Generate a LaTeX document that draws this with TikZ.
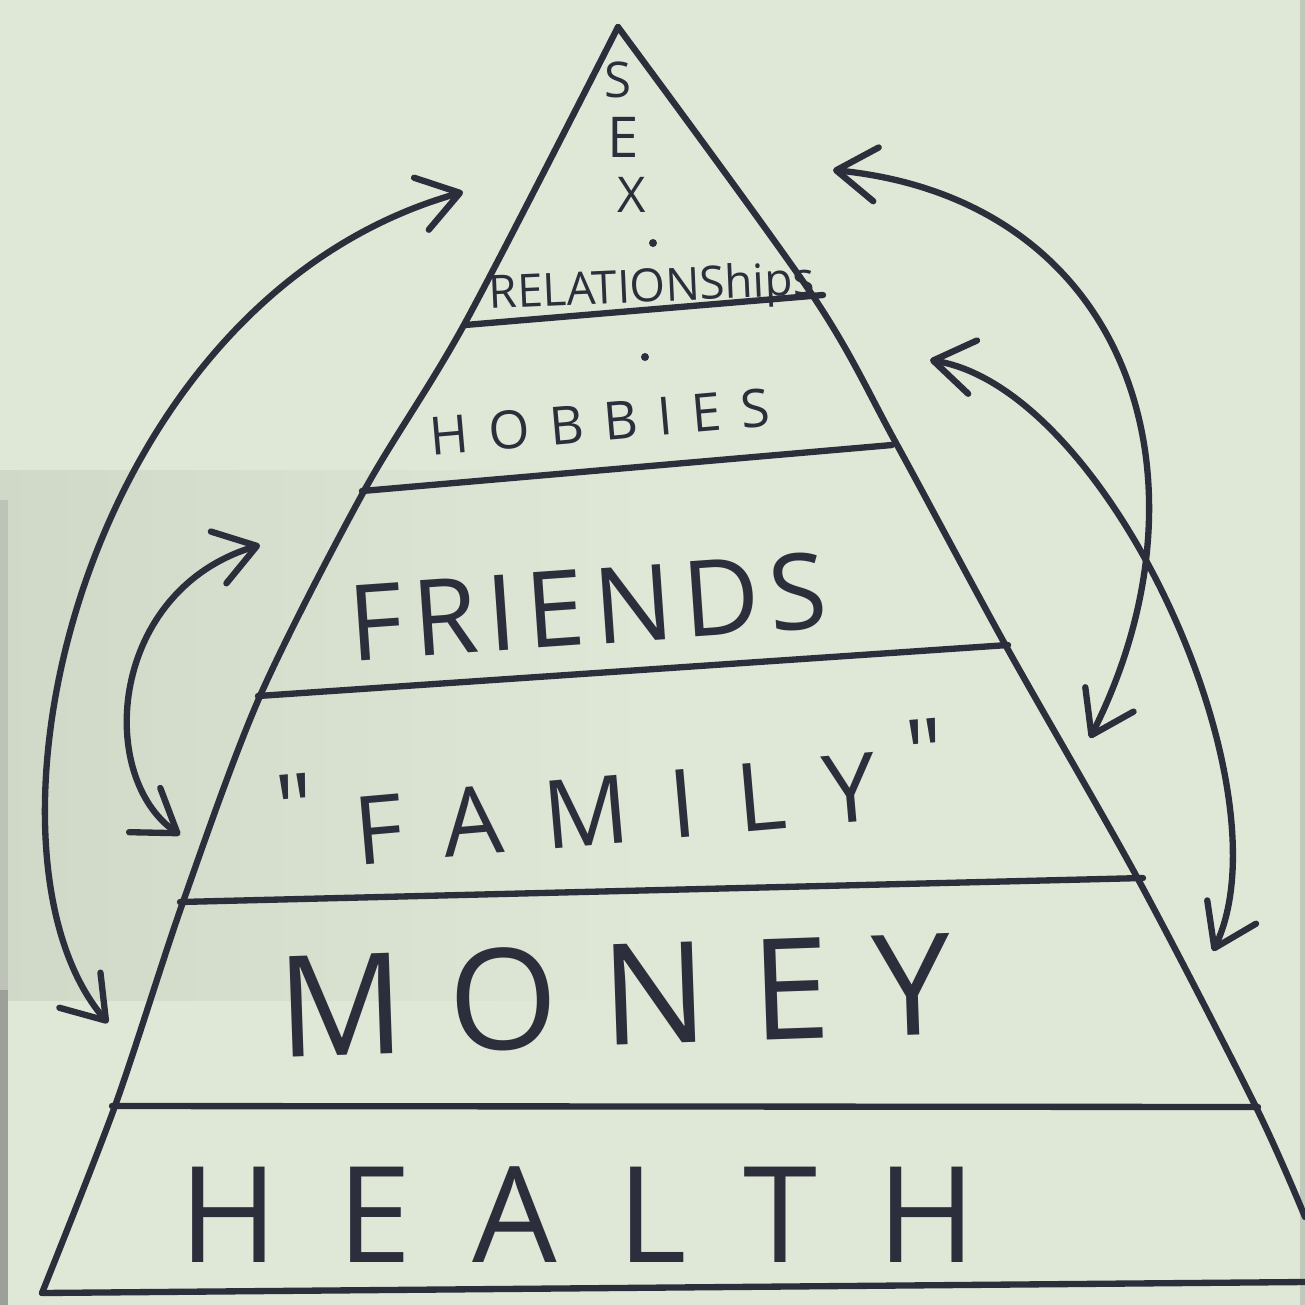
\documentclass[tikz,border=0pt]{standalone}
\usepackage{fontspec}
\setmainfont{Open Sans}[Ligatures=TeXOff]
\usetikzlibrary{arrows.meta}
\definecolor{paper}{HTML}{DFE7D6}
\definecolor{papershade}{HTML}{D0D8C8}
\definecolor{pen}{HTML}{2C2E3C}

\begin{document}
\begin{tikzpicture}[x=0.01cm, y=-0.01cm,
    inkline/.style={draw=pen, line width=1.8pt, line cap=round, line join=round},
    twoway/.style={inkline, {Straight Barb[length=4mm, width=5.4mm, round]}-{Straight Barb[length=4mm, width=5.4mm, round]}},
    tier/.style={text=pen, inner sep=0pt}]
   \useasboundingbox (0,0) rectangle (1305,1305);
   \fill[paper] (0,0) rectangle (1305,1305);
   \shade[left color=papershade, right color=paper] (0,470) rectangle (650,1000);
   \fill[gray!35!paper] (0,500) rectangle (8,990);
   \fill[gray!70!paper] (0,990) rectangle (8,1305);
   \fill[gray!30!paper] (1300,0) rectangle (1305,1305);

   \draw[inkline] plot[smooth, tension=0.5] coordinates {(618,27) (465,323) (364,491) (260,696) (183,902) (115,1106) (42,1293)};
   \draw[inkline] plot[smooth, tension=0.5] coordinates {(618,27) (813,296) (896,443) (1006,646) (1138,879) (1256,1107) (1305,1217)};
   \foreach \xa/\ya/\xb/\yb in {465/325/823/295, 362/491/892/445, 258/696/1008/645, 180/902/1143/878, 112/1106/1258/1107, 42/1293/1305/1282}
       \draw[inkline] (\xa,\ya) -- (\xb,\yb);

   \foreach \c/\x/\y/\s [count=\i] in {S/618/80/14, E/623/137/16, X/632/195/14}
       \node[tier, font=\fontsize{\s}{\s}\selectfont] (sex\i) at (\x,\y) {\c};
   \fill[pen] (653,243) circle (4);
   \fill[pen] (645,357) circle (4);
   \node[tier, font=\fontsize{13}{15}\selectfont, rotate=2.5] (relationships) at (652,290) {RELATIONShips};
   \node[tier, font=\fontsize{15}{17}\selectfont\addfontfeatures{LetterSpace=38}, rotate=5] (hobbies) at (600,422) {HOBBIES};
   \node[tier, font=\fontsize{30}{34}\selectfont\addfontfeatures{LetterSpace=9}, rotate=4] (friends) at (588,607) {FRIENDS};
   \node[tier, font=\fontsize{27}{30}\selectfont\addfontfeatures{LetterSpace=43}, rotate=5] (family) at (612,795) {\raisebox{0.3em}{"}\hspace{0.4em}FAMILY\hspace{0.35em}\raisebox{0.3em}{"}};
   \node[tier, font=\fontsize{40}{44}\selectfont\addfontfeatures{LetterSpace=31}, rotate=2] (money) at (615,995) {MONEY};
   \node[tier, font=\fontsize{38}{42}\selectfont\addfontfeatures{LetterSpace=45}] (health) at (578,1215) {HEALTH};

   \coordinate (sexW) at (463,192);
   \coordinate (moneyW) at (108,1023);
   \coordinate (friendsW) at (260,545);
   \coordinate (familyW) at (180,835);
   \coordinate (sexE) at (833,170);
   \coordinate (familyE) at (1090,738);
   \coordinate (hobbiesE) at (930,360);
   \coordinate (moneyE) at (1213,951);
   \draw[twoway] (moneyW) .. controls (-40,850) and (80,300) .. (sexW);
   \draw[twoway] (familyW) .. controls (95,775) and (110,590) .. (friendsW);
   \draw[twoway] (sexE) .. controls (1130,200) and (1220,480) .. (familyE);
   \draw[twoway] (hobbiesE) .. controls (1110,390) and (1290,790) .. (moneyE);
\end{tikzpicture}
\end{document}
